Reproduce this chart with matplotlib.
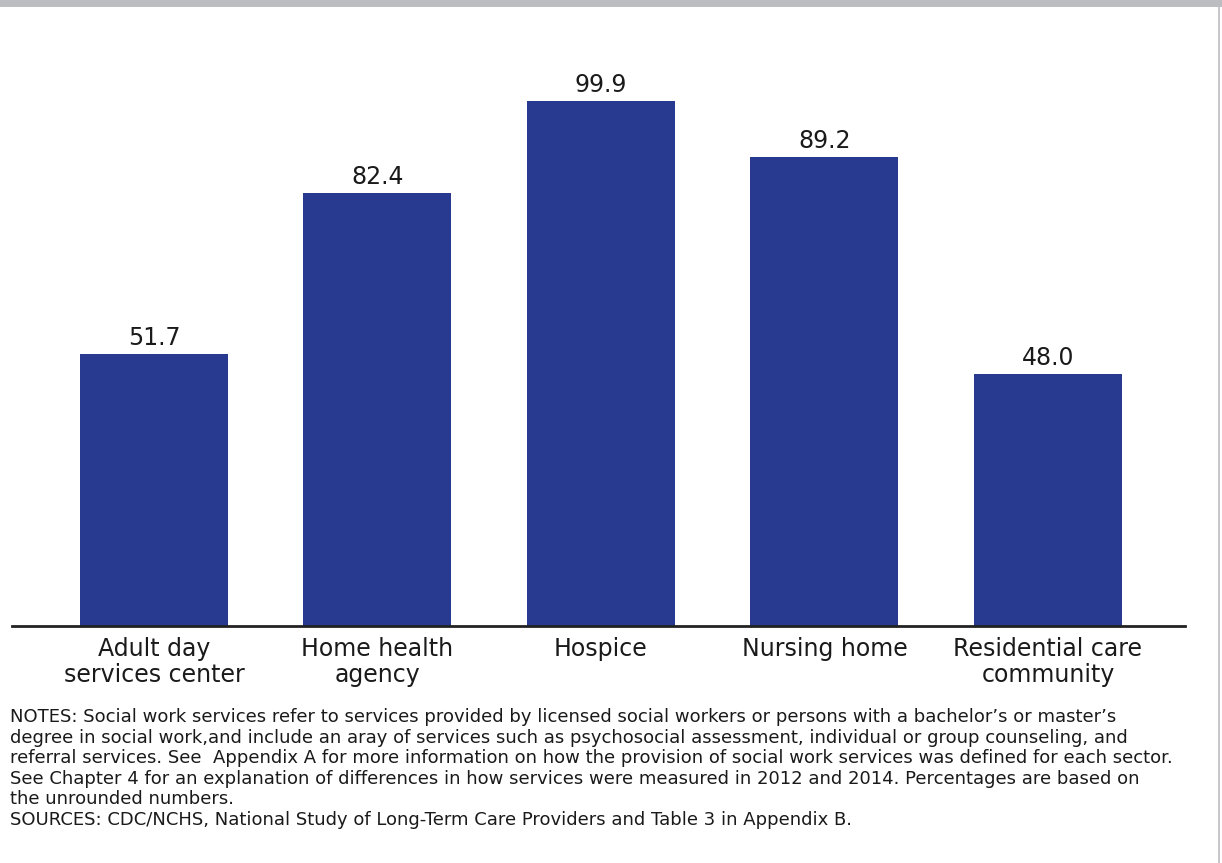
import matplotlib
matplotlib.use("Agg")
import matplotlib.pyplot as plt
import numpy as np

### ---- Data
categories = ["Adult day\nservices center", "Home health\nagency", "Hospice",
              "Nursing home", "Residential care\ncommunity"]
percent = [51.7, 82.4, 99.9, 89.2, 48.0]

notes = ("NOTES: Social work services refer to services provided by licensed social workers or persons with a bachelor\u2019s or master\u2019s\n"
         "degree in social work,and include an aray of services such as psychosocial assessment, individual or group counseling, and\n"
         "referral services. See  Appendix A for more information on how the provision of social work services was defined for each sector.\n"
         "See Chapter 4 for an explanation of differences in how services were measured in 2012 and 2014. Percentages are based on\n"
         "the unrounded numbers.\n"
         "SOURCES: CDC/NCHS, National Study of Long-Term Care Providers and Table 3 in Appendix B.")

bar_color = "#283a8f"
plt.rcParams["font.family"] = ["DejaVu Sans"]

W, H = 1222, 863
fig = plt.figure(figsize=(W / 100, H / 100), dpi=100)

# axes placed in pixel terms: baseline at y=626, left 12, right 1185
left, right, bottom, top = 12, 1185, 626, 30
ax = fig.add_axes([left / W, 1 - bottom / H, (right - left) / W, (bottom - top) / H])

x = np.arange(len(categories))
bars = ax.bar(x, percent, width=0.662, color=bar_color)
ax.set_xlim(-0.635, 4.613)
ax.set_ylim(0, 113.4)

for xi, v in zip(x, percent):
    ax.annotate(f"{v:.1f}", (xi, v), xytext=(0, 3), textcoords="offset points",
                ha="center", va="bottom", fontsize=17, color="#1a1a1a")

ax.set_xticks(x)
ax.set_xticklabels(categories, fontsize=17, linespacing=1.1, color="#1a1a1a")
ax.tick_params(axis="x", length=0, pad=8)
ax.set_yticks([])
for s in ["top", "right", "left"]:
    ax.spines[s].set_visible(False)
ax.spines["bottom"].set_linewidth(2)
ax.spines["bottom"].set_color("#222222")

fig.text(10 / W, 1 - 708 / H, notes, ha="left", va="top", fontsize=13.0,
         linespacing=1.18, color="#1a1a1a")

# grey band at the top and thin frame line on the right
fig.add_artist(plt.Rectangle((0, 1 - 7 / H), 1, 7 / H, transform=fig.transFigure,
                             color="#bcbdc1", lw=0))
fig.add_artist(plt.Line2D([1219 / W, 1219 / W], [0, 1 - 7 / H], transform=fig.transFigure,
                          color="#bcbdc1", lw=1.2))

fig.savefig("out.png", dpi=100)
